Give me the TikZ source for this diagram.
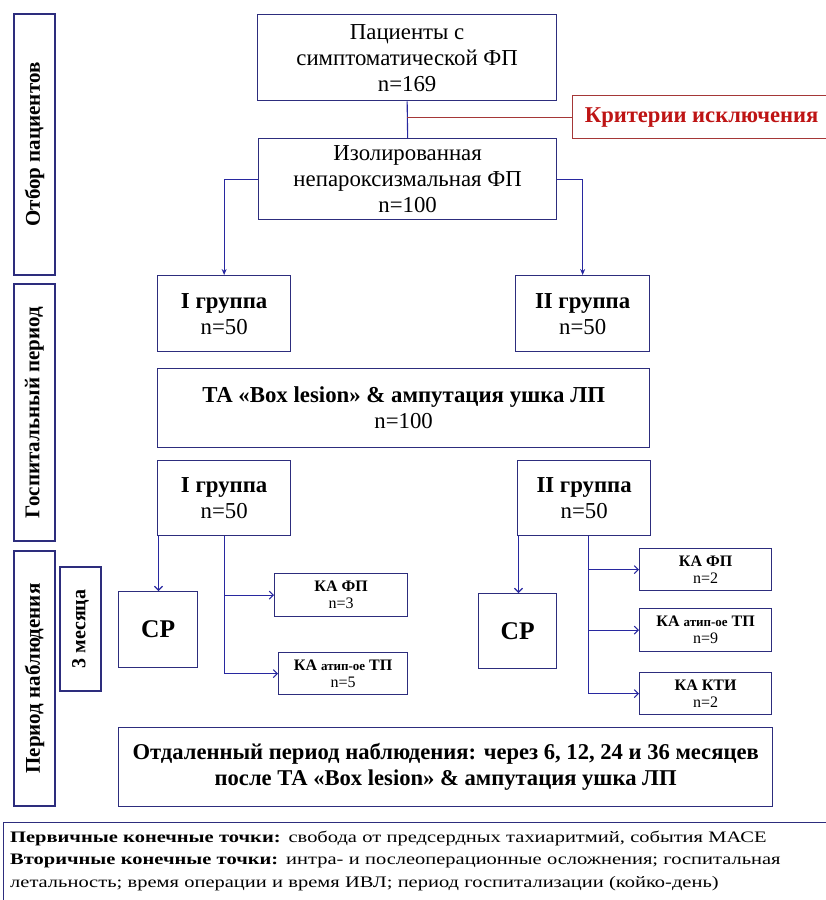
\documentclass[tikz,border=0pt]{standalone}
\usepackage{fontspec}
\setmainfont{Liberation Serif}
\newfontfamily\widefont[FakeStretch=1.28]{Liberation Serif}
\usetikzlibrary{arrows.meta,calc}
\definecolor{navy}{RGB}{45,45,125}
\definecolor{arrblue}{RGB}{40,40,160}
\definecolor{critred}{RGB}{190,20,20}
\definecolor{critborder}{RGB}{165,55,55}
\begin{document}
\begin{tikzpicture}[x=1pt,y=-1pt,
  box/.style={draw=navy, line width=1.3pt, inner sep=0pt, align=center, anchor=north west, font=\fontsize{22.8}{26}\selectfont},
  smallbox/.style={box, font=\fontsize{16}{17}\selectfont},
  vbox/.style={draw=navy, line width=1.5pt, inner sep=0pt, align=center, anchor=center, rotate=90, font=\fontsize{21}{22}\selectfont\bfseries},
  ln/.style={draw=arrblue, line width=1.1pt},
  arrA/.style={ln, -{Stealth[length=6pt,width=5pt]}},
  arrB/.style={ln, -{Straight Barb[length=4pt,width=8pt]}},
  redln/.style={draw=critborder, line width=1.2pt}
]
\useasboundingbox (0,0) rectangle (826,900);

% left phase labels
\node[vbox, minimum width=261pt, minimum height=41pt] (lab1) at (34.5,144.5) {Отбор пациентов};
\node[vbox, minimum width=257pt, minimum height=41pt] (lab2) at (34.5,412.5) {Госпитальный период};
\node[vbox, minimum width=255pt, minimum height=41pt] (lab3) at (34.5,678.5) {Период наблюдения};
\node[vbox, minimum width=124pt, minimum height=41pt, font=\fontsize{20}{22}\selectfont\bfseries] (lab4) at (80.5,629) {3 месяца};

% selection
\node[box, minimum width=299pt, minimum height=86pt] (top) at (257,14) {Пациенты с\\симптоматической ФП\\n=169};
\node[box, draw=critborder, minimum width=258pt, minimum height=43pt, text=critred, font=\fontsize{22.6}{26}\selectfont\bfseries] (crit) at (572,95) {Критерии исключения};
\node[box, minimum width=298pt, minimum height=81pt] (iso) at (258,138) {Изолированная\\непароксизмальная ФП\\n=100};

% hospital
\node[box, minimum width=133pt, minimum height=76pt] (g1) at (157,275) {\textbf{I группа}\\n=50};
\node[box, minimum width=134pt, minimum height=76pt] (g2) at (515,275) {\textbf{II группа}\\n=50};
\node[box, minimum width=492pt, minimum height=79pt] (ta) at (157,368) {\textbf{ТА «Box lesion» \& ампутация ушка ЛП}\\n=100};
\node[box, minimum width=133pt, minimum height=75pt] (g1b) at (157,460) {\textbf{I группа}\\n=50};
\node[box, minimum width=133pt, minimum height=75pt] (g2b) at (517,460) {\textbf{II группа}\\n=50};

% follow-up
\node[box, minimum width=79pt, minimum height=76pt, font=\fontsize{25.5}{26}\selectfont\bfseries] (cp1) at (118,591) {СР};
\node[box, minimum width=78pt, minimum height=75pt, font=\fontsize{25.5}{26}\selectfont\bfseries] (cp2) at (478,593) {СР};
\node[smallbox, minimum width=133pt, minimum height=43pt] (ka1) at (274,573) {\textbf{КА ФП}\\n=3};
\node[smallbox, minimum width=129pt, minimum height=42pt] (ka2) at (278,652) {\textbf{КА {\fontsize{13}{14}\selectfont атип-ое} ТП}\\n=5};
\node[smallbox, minimum width=132pt, minimum height=42pt] (kr1) at (639,548) {\textbf{КА ФП}\\n=2};
\node[smallbox, minimum width=132pt, minimum height=43pt] (kr2) at (639,608) {\textbf{КА {\fontsize{13}{14}\selectfont атип-ое} ТП}\\n=9};
\node[smallbox, minimum width=132pt, minimum height=42pt] (kr3) at (639,672) {\textbf{КА КТИ}\\n=2};
\node[box, minimum width=654pt, minimum height=79pt, font=\fontsize{22.6}{26}\selectfont\bfseries] (far) at (118,727) {Отдаленный период наблюдения: через 6, 12, 24 и 36 месяцев\\после ТА «Box lesion» \& ампутация ушка ЛП};

% endpoints
\node[draw=navy, line width=1.2pt, inner sep=0pt, anchor=north west, minimum width=830pt, minimum height=90pt] (bot) at (3,822) {};
\node[anchor=north west, inner sep=0pt, text width=808pt, align=left, font=\widefont\fontsize{16}{22.3}\selectfont] (bottxt) at (10,831) {\textbf{Первичные конечные точки:} свобода от предсердных тахиаритмий, события МАСЕ\\
\makebox[808pt][s]{\textbf{Вторичные конечные точки:} интра- и послеоперационные осложнения; госпитальная}\\
летальность; время операции и время ИВЛ; период госпитализации (койко-день)};

% connectors
\draw[ln] (top.south) -- (iso.north);
\coordinate (cj) at (top.south |- crit.west);
\draw[redln] (cj) -- (crit.west);
\draw[arrA] (iso.west) -| (g1.north);
\draw[arrA] (iso.east) -| (g2.north);

\coordinate (c1j) at ($(g1b.south west)+(1.5,0)$);
\draw[arrB] (c1j) -- (c1j |- cp1.north);
\draw[arrB] (g1b.south) |- (ka2.west);
\draw[arrB] (g1b.south |- ka1.west) -- (ka1.west);

\coordinate (g2j) at ($(g2b.south)+(4.5,0)$);
\coordinate (c2j) at ($(g2b.south west)+(1.5,0)$);
\draw[arrB] (c2j) -- (c2j |- cp2.north);
\draw[arrB] (g2j) |- (kr3.west);
\draw[arrB] (g2j |- kr1.west) -- (kr1.west);
\draw[arrB] (g2j |- kr2.west) -- (kr2.west);
\end{tikzpicture}
\end{document}
